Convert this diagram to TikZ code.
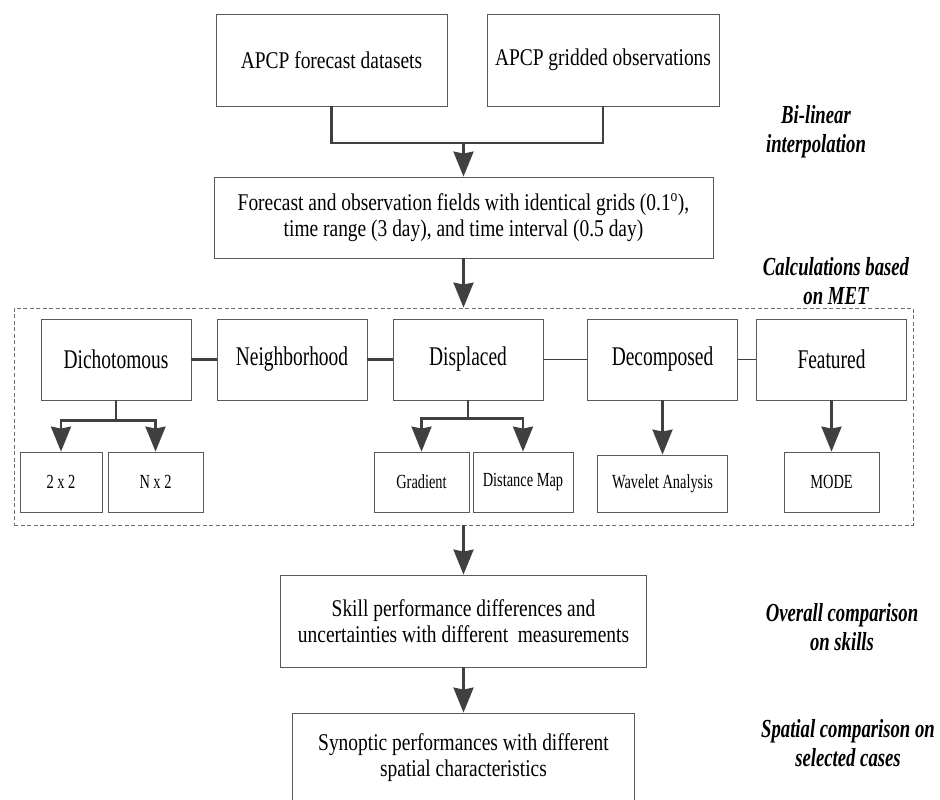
\documentclass[tikz,border=0pt]{standalone}
\usepackage{fontspec}
\setmainfont{Liberation Serif}[FakeStretch=0.81]
\newfontfamily\narrowfont{Liberation Serif}[FakeStretch=0.72]
\usepackage{tikz}
\usetikzlibrary{arrows.meta,positioning}
\definecolor{linegray}{HTML}{404040}
\definecolor{boxgray}{HTML}{5A5A5A}
\definecolor{dashgray}{HTML}{6E6E6E}

\begin{document}
\begin{tikzpicture}[
  x=1pt, y=-1pt,
  >={Stealth[length=25pt,width=20pt,inset=2pt]},
  box/.style={draw=boxgray, line width=0.8pt, align=center, inner sep=2pt},
  mainbox/.style={box, font=\fontsize{24}{26}\selectfont},
  method/.style={box, minimum width=150, minimum height=81, font=\narrowfont\fontsize{27}{30}\selectfont},
  tool/.style={box, minimum height=60, font=\narrowfont\fontsize{20}{22}\selectfont},
  stage/.style={align=center, font=\narrowfont\bfseries\itshape\fontsize{26}{29}\selectfont},
  region/.style={draw=dashgray, line width=0.8pt, dash pattern=on 4pt off 2.5pt},
  link/.style={draw=linegray, line width=2.6pt},
  arr/.style={link, ->},
  tie/.style={draw=linegray, line width=1.2pt}
]
  \useasboundingbox (0,0) rectangle (940,800);

  % inputs
  \node[mainbox, minimum width=231, minimum height=92] (fcst) at (331.5,60) {APCP forecast datasets};
  \node[mainbox, minimum width=232, minimum height=92] (obs) at (603,60) {APCP gridded observations};
  \node[mainbox, minimum width=499, minimum height=81] (fields) at (463.5,217.5)
    {Forecast and observation fields with identical grids (0.1\textsuperscript{o}),\\time range (3 day), and time interval (0.5 day)};

  % MET methods
  \node[region, minimum width=899, minimum height=217] (met) at (463.5,416.5) {};
  \node[method] (dich) at (116,359.5) {Dichotomous};
  \node[method] (neigh) at (292,359.5) {Neighborhood};
  \node[method] (displ) at (468,359.5) {Displaced};
  \node[method] (decomp) at (662.5,359.5) {Decomposed};
  \node[method] (feat) at (831.5,359.5) {Featured};
  \node[tool, minimum width=82] (t22) at (61,482) {2 x 2};
  \node[tool, minimum width=95] (tn2) at (155.5,482) {N x 2};
  \node[tool, minimum width=95] (grad) at (421.5,482) {Gradient};
  \node[tool, minimum width=100] (dmap) at (523,482) {Distance Map};
  \node[tool, minimum width=130, minimum height=57] (wave) at (662.5,483.5) {Wavelet Analysis};
  \node[tool, minimum width=95] (mode) at (831.5,482) {MODE};

  % results
  \node[mainbox, minimum width=366, minimum height=92] (skill) at (463.5,621)
    {Skill performance differences and\\uncertainties with different~ measurements};
  \node[mainbox, minimum width=342, minimum height=90] (synop) at (463.5,758)
    {Synoptic performances with different\\spatial characteristics};

  % stage labels
  \node[stage] (interp) at (816,132) {Bi-linear\\interpolation};
  \node[stage] (calc) at (836,281) {Calculations based\\on MET};
  \node[stage] (overall) at (842,627) {Overall comparison\\on skills};
  \node[stage] (spatial) at (848,743) {Spatial comparison on\\selected cases};

  % connectors
  \coordinate (merge) at (463.5,143);
  \draw[link] (fcst.south) |- (merge) -| (obs.south);
  \draw[arr] (merge) -- (fields.north);
  \draw[arr] (fields.south) -- (met.north);
  \draw[tie, line width=2.2pt] (dich) -- (neigh);
  \draw[tie, line width=2.2pt] (neigh) -- (displ);
  \draw[tie] (displ) -- (decomp);
  \draw[tie] (decomp) -- (feat);
  \draw[link] (dich.south) -- ++(0,20) coordinate (dichsplit);
  \draw[arr] (dichsplit) -| (t22.north);
  \draw[arr] (dichsplit) -| (tn2.north);
  \draw[link] (displ.south) -- ++(0,18) coordinate (displsplit);
  \draw[arr] (displsplit) -| (grad.north);
  \draw[arr] (displsplit) -| (dmap.north);
  \draw[arr] (decomp.south) -- (wave.north);
  \draw[arr] (feat.south) -- (mode.north);
  \draw[arr] (met.south) -- (skill.north);
  \draw[arr] (skill.south) -- (synop.north);
\end{tikzpicture}
\end{document}
